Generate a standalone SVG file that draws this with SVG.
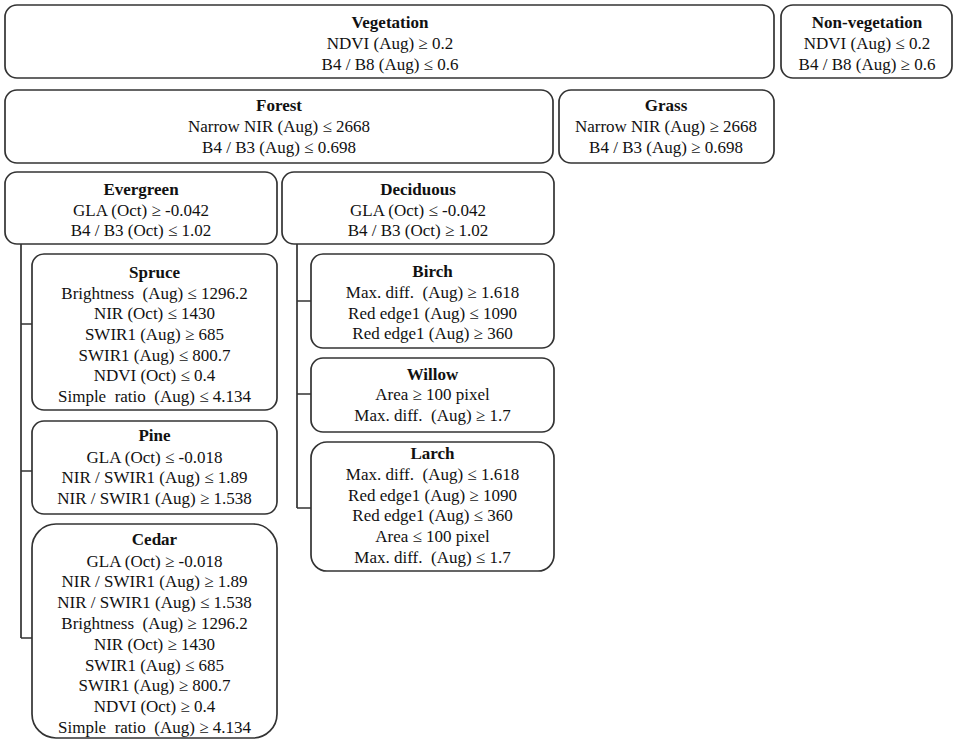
<svg xmlns="http://www.w3.org/2000/svg" width="954" height="742" viewBox="0 0 954 742">
<style>
.b{fill:#fff;stroke:#333;stroke-width:1.7}
text{font-family:"Liberation Serif","Times New Roman",serif;font-size:17px;fill:#111;text-anchor:middle;white-space:pre}
.t{font-weight:bold}
.c{fill:none;stroke:#333;stroke-width:1.7}
</style>
<rect width="954" height="742" fill="#fff"/>
<g id="connectors">
<path class="c" d="M21,244 V638 M21,324 H32 M21,471 H32 M21,638 H32"/>
<path class="c" d="M297,244 V508 M297,301 H311 M297,394 H311 M297,508 H311"/>
</g>
<g id="vegetation">
<rect class="b" x="5" y="5" width="769" height="73" rx="12"/>
<text x="390" y="28" class="t">Vegetation</text>
<text x="390" y="49">NDVI (Aug) ≥ 0.2</text>
<text x="390" y="70">B4 / B8 (Aug) ≤ 0.6</text>
</g>
<g id="non-vegetation">
<rect class="b" x="781" y="5" width="171" height="73" rx="12"/>
<text x="867" y="28" class="t">Non-vegetation</text>
<text x="867" y="49">NDVI (Aug) ≤ 0.2</text>
<text x="867" y="70">B4 / B8 (Aug) ≥ 0.6</text>
</g>
<g id="forest">
<rect class="b" x="5" y="90" width="548" height="73" rx="12"/>
<text x="279" y="111" class="t">Forest</text>
<text x="279" y="132">Narrow NIR (Aug) ≤ 2668</text>
<text x="279" y="153">B4 / B3 (Aug) ≤ 0.698</text>
</g>
<g id="grass">
<rect class="b" x="559" y="90" width="215" height="73" rx="12"/>
<text x="666" y="111" class="t">Grass</text>
<text x="666" y="132">Narrow NIR (Aug) ≥ 2668</text>
<text x="666" y="153">B4 / B3 (Aug) ≥ 0.698</text>
</g>
<g id="evergreen">
<rect class="b" x="5" y="172" width="272" height="72" rx="12"/>
<text x="141" y="195" class="t">Evergreen</text>
<text x="141" y="216">GLA (Oct) ≥ -0.042</text>
<text x="141" y="236">B4 / B3 (Oct) ≤ 1.02</text>
</g>
<g id="deciduous">
<rect class="b" x="282" y="172" width="272" height="72" rx="12"/>
<text x="418" y="195" class="t">Deciduous</text>
<text x="418" y="216">GLA (Oct) ≤ -0.042</text>
<text x="418" y="236">B4 / B3 (Oct) ≥ 1.02</text>
</g>
<g id="spruce">
<rect class="b" x="32" y="254" width="245" height="156" rx="12"/>
<text x="154.5" y="278" class="t">Spruce</text>
<text x="154.5" y="299">Brightness  (Aug) ≤ 1296.2</text>
<text x="154.5" y="319">NIR (Oct) ≤ 1430</text>
<text x="154.5" y="340">SWIR1 (Aug) ≥ 685</text>
<text x="154.5" y="361">SWIR1 (Aug) ≤ 800.7</text>
<text x="154.5" y="381">NDVI (Oct) ≤ 0.4</text>
<text x="154.5" y="402">Simple  ratio  (Aug) ≤ 4.134</text>
</g>
<g id="pine">
<rect class="b" x="32" y="421" width="245" height="93" rx="12"/>
<text x="154.5" y="441" class="t">Pine</text>
<text x="154.5" y="463">GLA (Oct) ≤ -0.018</text>
<text x="154.5" y="483">NIR / SWIR1 (Aug) ≤ 1.89</text>
<text x="154.5" y="504">NIR / SWIR1 (Aug) ≥ 1.538</text>
</g>
<g id="cedar">
<rect class="b" x="32" y="524" width="245" height="214" rx="24"/>
<text x="154.5" y="545" class="t">Cedar</text>
<text x="154.5" y="567">GLA (Oct) ≥ -0.018</text>
<text x="154.5" y="587">NIR / SWIR1 (Aug) ≥ 1.89</text>
<text x="154.5" y="608">NIR / SWIR1 (Aug) ≤ 1.538</text>
<text x="154.5" y="629">Brightness  (Aug) ≥ 1296.2</text>
<text x="154.5" y="650">NIR (Oct) ≥ 1430</text>
<text x="154.5" y="671">SWIR1 (Aug) ≤ 685</text>
<text x="154.5" y="691">SWIR1 (Aug) ≥ 800.7</text>
<text x="154.5" y="712">NDVI (Oct) ≥ 0.4</text>
<text x="154.5" y="733">Simple  ratio  (Aug) ≥ 4.134</text>
</g>
<g id="birch">
<rect class="b" x="311" y="254" width="243" height="94" rx="12"/>
<text x="432.5" y="277" class="t">Birch</text>
<text x="432.5" y="298">Max. diff.  (Aug) ≥ 1.618</text>
<text x="432.5" y="319">Red edge1 (Aug) ≤ 1090</text>
<text x="432.5" y="339">Red edge1 (Aug) ≥ 360</text>
</g>
<g id="willow">
<rect class="b" x="311" y="358" width="243" height="74" rx="12"/>
<text x="432.5" y="380" class="t">Willow</text>
<text x="432.5" y="400">Area ≥ 100 pixel</text>
<text x="432.5" y="421">Max. diff.  (Aug) ≥ 1.7</text>
</g>
<g id="larch">
<rect class="b" x="311" y="442" width="243" height="129" rx="16"/>
<text x="432.5" y="459" class="t">Larch</text>
<text x="432.5" y="480">Max. diff.  (Aug) ≤ 1.618</text>
<text x="432.5" y="501">Red edge1 (Aug) ≥ 1090</text>
<text x="432.5" y="521">Red edge1 (Aug) ≤ 360</text>
<text x="432.5" y="542">Area ≤ 100 pixel</text>
<text x="432.5" y="563">Max. diff.  (Aug) ≤ 1.7</text>
</g>
</svg>
